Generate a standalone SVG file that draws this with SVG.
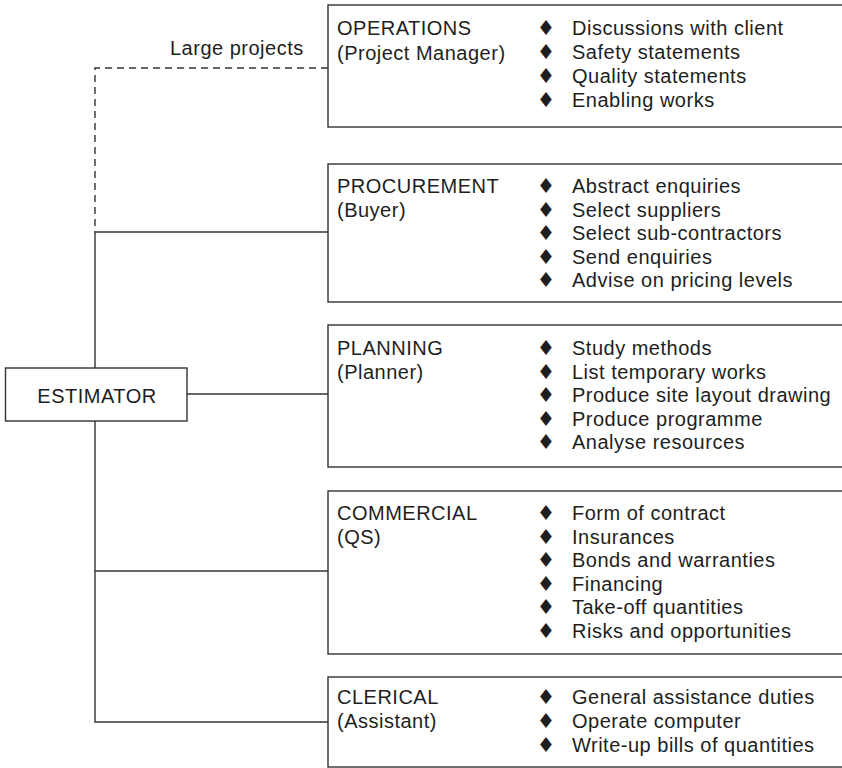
<svg xmlns="http://www.w3.org/2000/svg" width="842" height="768" viewBox="0 0 842 768">
<style>
text{font-family:"Liberation Sans",Arial,sans-serif;font-size:20px;letter-spacing:0.5px;fill:#1e1e1e}
.b{font-family:"DejaVu Sans",sans-serif;font-size:20.5px;letter-spacing:0;text-anchor:middle}
.box{fill:#fff;stroke:#333;stroke-width:1.4}
.ln{fill:none;stroke:#333;stroke-width:1.4}
.dash{fill:none;stroke:#333;stroke-width:1.4;stroke-dasharray:7 5}
</style>
<rect width="842" height="768" fill="#fff"/>
<g id="connectors">
<polyline class="dash" points="328,68 95,68 95,232"/>
<line class="ln" x1="95" y1="232" x2="95" y2="368"/>
<line class="ln" x1="95" y1="232" x2="328" y2="232"/>
<line class="ln" x1="187" y1="394" x2="328" y2="394"/>
<polyline class="ln" points="95,421 95,722 328,722"/>
<line class="ln" x1="95" y1="571" x2="328" y2="571"/>
<text x="170" y="55">Large projects</text>
</g>
<g id="estimator">
<rect class="box" x="5.5" y="368" width="181.5" height="53"/>
<text x="97" y="403" text-anchor="middle">ESTIMATOR</text>
</g>
<g id="operations">
<rect class="box" x="328" y="5" width="520" height="122"/>
<text x="337" y="35">OPERATIONS</text>
<text x="337" y="60">(Project Manager)</text>
<text class="b" x="546" y="35">♦</text><text x="572" y="35">Discussions with client</text>
<text class="b" x="546" y="59">♦</text><text x="572" y="59">Safety statements</text>
<text class="b" x="546" y="83">♦</text><text x="572" y="83">Quality statements</text>
<text class="b" x="546" y="107">♦</text><text x="572" y="107">Enabling works</text>
</g>
<g id="procurement">
<rect class="box" x="328" y="164" width="520" height="138"/>
<text x="337" y="193">PROCUREMENT</text>
<text x="337" y="217">(Buyer)</text>
<text class="b" x="546" y="193">♦</text><text x="572" y="193">Abstract enquiries</text>
<text class="b" x="546" y="216.5">♦</text><text x="572" y="216.5">Select suppliers</text>
<text class="b" x="546" y="240">♦</text><text x="572" y="240">Select sub-contractors</text>
<text class="b" x="546" y="263.5">♦</text><text x="572" y="263.5">Send enquiries</text>
<text class="b" x="546" y="287">♦</text><text x="572" y="287">Advise on pricing levels</text>
</g>
<g id="planning">
<rect class="box" x="328" y="325" width="520" height="142"/>
<text x="337" y="355">PLANNING</text>
<text x="337" y="379">(Planner)</text>
<text class="b" x="546" y="355">♦</text><text x="572" y="355">Study methods</text>
<text class="b" x="546" y="378.5">♦</text><text x="572" y="378.5">List temporary works</text>
<text class="b" x="546" y="402">♦</text><text x="572" y="402">Produce site layout drawing</text>
<text class="b" x="546" y="425.5">♦</text><text x="572" y="425.5">Produce programme</text>
<text class="b" x="546" y="449">♦</text><text x="572" y="449">Analyse resources</text>
</g>
<g id="commercial">
<rect class="box" x="328" y="491" width="520" height="163"/>
<text x="337" y="520">COMMERCIAL</text>
<text x="337" y="544">(QS)</text>
<text class="b" x="546" y="520">♦</text><text x="572" y="520">Form of contract</text>
<text class="b" x="546" y="543.5">♦</text><text x="572" y="543.5">Insurances</text>
<text class="b" x="546" y="567">♦</text><text x="572" y="567">Bonds and warranties</text>
<text class="b" x="546" y="590.5">♦</text><text x="572" y="590.5">Financing</text>
<text class="b" x="546" y="614">♦</text><text x="572" y="614">Take-off quantities</text>
<text class="b" x="546" y="637.5">♦</text><text x="572" y="637.5">Risks and opportunities</text>
</g>
<g id="clerical">
<rect class="box" x="328" y="677" width="520" height="90"/>
<text x="337" y="704">CLERICAL</text>
<text x="337" y="728">(Assistant)</text>
<text class="b" x="546" y="704">♦</text><text x="572" y="704">General assistance duties</text>
<text class="b" x="546" y="728">♦</text><text x="572" y="728">Operate computer</text>
<text class="b" x="546" y="752">♦</text><text x="572" y="752">Write-up bills of quantities</text>
</g>
</svg>
